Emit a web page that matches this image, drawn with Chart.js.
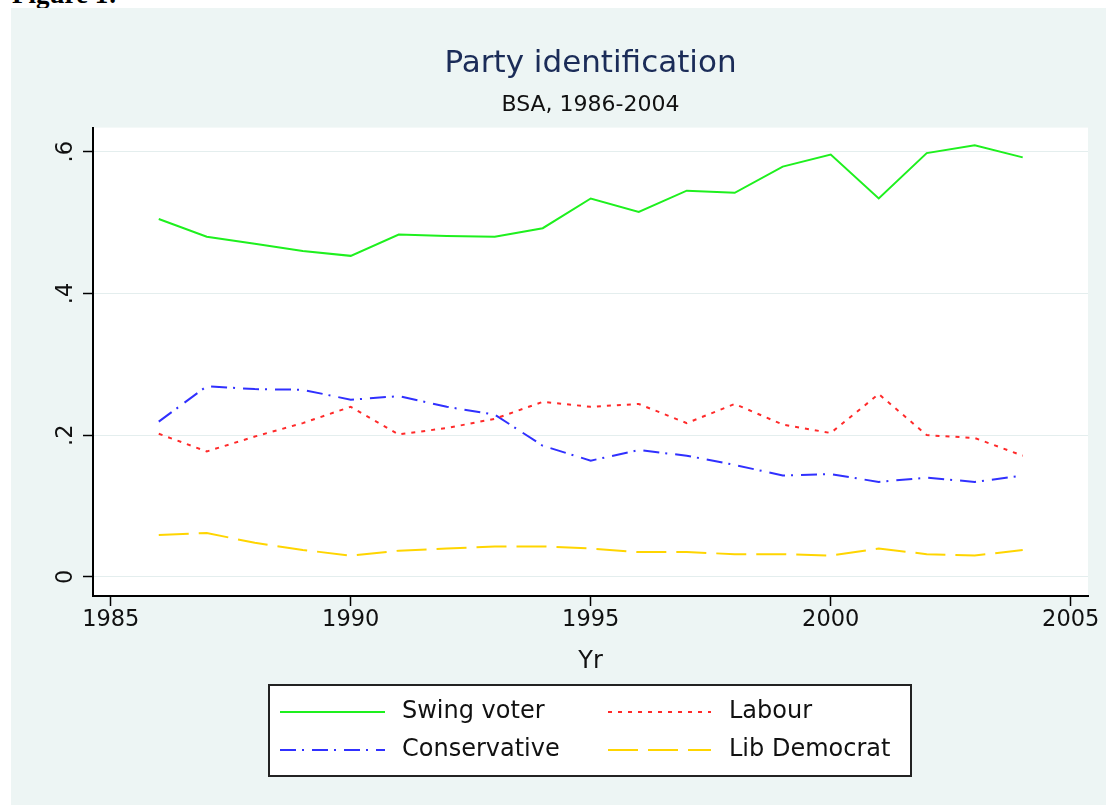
<!DOCTYPE html>
<html>
<head>
<meta charset="utf-8">
<title>Party identification</title>
<script src="https://cdn.jsdelivr.net/npm/chart.js@4.4.1/dist/chart.umd.min.js"></script>
<style>
  html, body { margin: 0; padding: 0; background: #ffffff; }
  body { width: 1106px; height: 805px; position: relative; overflow: hidden; }
  #figlabel {
    position: absolute; left: 12px; top: -19px;
    font: bold 27px "Liberation Serif", serif; line-height: 27px; color: #000;
  }
  #myChart { position: absolute; left: 11px; top: 8px; background: #edf5f4; z-index: 1; }
</style>
</head>
<body>
<div id="figlabel">Figure 1:</div>
<canvas id="myChart" width="1095" height="797"></canvas>
<script>
// data (share of respondents)
const years = [1986, 1987, 1988, 1989, 1990, 1991, 1992, 1993, 1994, 1995,
               1996, 1997, 1998, 1999, 2000, 2001, 2002, 2003, 2004];
const swingVoter   = [0.505, 0.480, 0.470, 0.460, 0.453, 0.483, 0.481, 0.480, 0.492, 0.534,
                      0.515, 0.545, 0.542, 0.579, 0.596, 0.534, 0.598, 0.609, 0.592];
const labour       = [0.202, 0.177, 0.198, 0.217, 0.240, 0.201, 0.210, 0.223, 0.247, 0.240,
                      0.244, 0.217, 0.244, 0.215, 0.203, 0.258, 0.200, 0.196, 0.171];
const conservative = [0.219, 0.269, 0.265, 0.264, 0.250, 0.255, 0.240, 0.229, 0.185, 0.164,
                      0.179, 0.171, 0.158, 0.143, 0.145, 0.134, 0.140, 0.134, 0.143];
const libDemocrat  = [0.059, 0.062, 0.048, 0.038, 0.030, 0.037, 0.040, 0.043, 0.043, 0.040,
                      0.035, 0.035, 0.032, 0.032, 0.030, 0.040, 0.032, 0.030, 0.038];

const seriesNames = ['Swing voter', 'Labour', 'Conservative', 'Lib Democrat'];
const xTicks = [1985, 1990, 1995, 2000, 2005];
const yTicks = [0, 0.2, 0.4, 0.6];
const yTickLabels = ['0', '.2', '.4', '.6'];

const FONT = '"DejaVu Sans", sans-serif';
const INK = '#111111';

function pts(vals) {
    return years.map((yr, i) => ({ x: yr, y: vals[i] }));
}

// white plot region
const plotBg = {
    id: 'plotBg',
    beforeDraw(chart) {
        const a = chart.chartArea;
        const ctx = chart.ctx;
        ctx.save();
        ctx.fillStyle = '#ffffff';
        ctx.fillRect(a.left, a.top, a.right - a.left, a.bottom - a.top);
        ctx.restore();
    }
};

// boxed two-column legend below the axis title
const boxLegend = {
    id: 'boxLegend',
    afterDraw(chart) {
        const ctx = chart.ctx;
        const box = { x: 258, y: 677, w: 642, h: 91 };
        const cols = [{ line0: 269, line1: 374, text: 391 }, { line0: 597, line1: 700, text: 718 }];
        const rows = [704, 742];
        ctx.save();
        ctx.fillStyle = '#ffffff';
        ctx.fillRect(box.x, box.y, box.w, box.h);
        ctx.strokeStyle = '#222222';
        ctx.lineWidth = 2;
        ctx.setLineDash([]);
        ctx.strokeRect(box.x, box.y, box.w, box.h);
        chart.data.datasets.forEach((ds, i) => {
            const c = cols[i % 2];
            const y = rows[Math.floor(i / 2)];
            ctx.strokeStyle = ds.borderColor;
            ctx.lineWidth = ds.borderWidth;
            ctx.setLineDash(ds.borderDash || []);
            ctx.beginPath();
            ctx.moveTo(c.line0, y);
            ctx.lineTo(c.line1, y);
            ctx.stroke();
            ctx.setLineDash([]);
            ctx.fillStyle = INK;
            ctx.font = '24px ' + FONT;
            ctx.textBaseline = 'middle';
            ctx.textAlign = 'left';
            ctx.fillText(ds.label, c.text, y);
        });
        ctx.restore();
    }
};

new Chart(document.getElementById('myChart'), {
    type: 'line',
    data: {
        datasets: [
            { label: seriesNames[0], data: pts(swingVoter),   borderColor: '#1ef01e', borderWidth: 2, borderDash: [] },
            { label: seriesNames[1], data: pts(labour),       borderColor: '#ff2a2a', borderWidth: 2, borderDash: [4, 6] },
            { label: seriesNames[2], data: pts(conservative), borderColor: '#3030ff', borderWidth: 2, borderDash: [16, 6, 2, 8] },
            { label: seriesNames[3], data: pts(libDemocrat),  borderColor: '#ffd500', borderWidth: 2, borderDash: [30, 10] },
        ]
    },
    options: {
        responsive: false,
        animation: false,
        layout: { padding: { left: 0, right: 18, top: 0, bottom: 129 } },
        elements: { point: { radius: 0 }, line: { tension: 0, fill: false } },
        scales: {
            x: {
                type: 'linear',
                min: 1984.63,
                max: 2005.36,
                afterBuildTicks: s => { s.ticks = xTicks.map(v => ({ value: v })); },
                afterFit: s => { s.height = 80; },
                ticks: {
                    autoSkip: false, maxRotation: 0, padding: 1,
                    color: INK, font: { family: FONT, size: 22.5 },
                    callback: v => String(v)
                },
                grid: { drawOnChartArea: false, drawTicks: true, tickLength: 10, tickColor: '#000', tickWidth: 1.5 },
                border: { color: '#000', width: 2 },
                title: { display: true, text: 'Yr', color: INK, font: { family: FONT, size: 24 }, padding: 0 }
            },
            y: {
                type: 'linear',
                min: -0.027,
                max: 0.634,
                afterBuildTicks: s => { s.ticks = yTicks.map(v => ({ value: v })); },
                afterFit: s => { s.width = 82; },
                ticks: {
                    minRotation: 90, maxRotation: 90, crossAlign: 'center', padding: 6,
                    color: INK, font: { family: FONT, size: 22.5 },
                    callback: v => yTickLabels[yTicks.indexOf(v)]
                },
                grid: { color: '#e4eeee', lineWidth: 1, drawTicks: true, tickLength: 10, tickColor: '#000', tickWidth: 1.5 },
                border: { color: '#000', width: 2 }
            }
        },
        plugins: {
            legend: { display: false },
            tooltip: { enabled: false },
            title: {
                display: true, text: 'Party identification', fullSize: false,
                color: '#1b2c58', font: { family: FONT, size: 31, weight: 'normal' },
                padding: { top: 37, bottom: 0 }
            },
            subtitle: {
                display: true, text: 'BSA, 1986-2004', fullSize: false,
                color: INK, font: { family: FONT, size: 22 },
                padding: { top: 10, bottom: 9 }
            }
        }
    },
    plugins: [plotBg, boxLegend]
});
</script>
</body>
</html>
